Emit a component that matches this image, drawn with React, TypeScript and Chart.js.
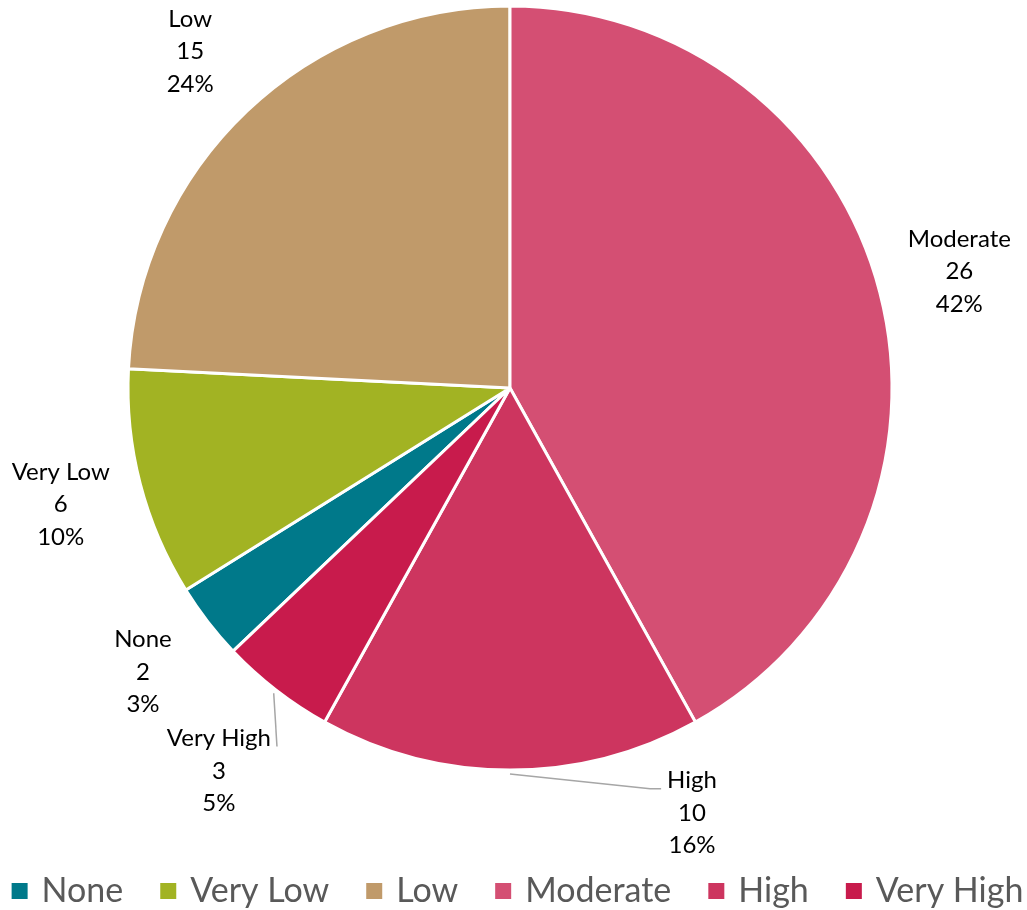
import React, { useEffect, useRef } from "react";
import { Chart, registerables } from "chart.js";

Chart.register(...registerables);

const categories: string[] = ["None", "Very Low", "Low", "Moderate", "High", "Very High"];
const counts: number[] = [2, 6, 15, 26, 10, 3];
const sliceColors: string[] = ["#00798A", "#A2B323", "#C09A6A", "#D44F73", "#CD355F", "#C81B4C"];
const firstSliceAtTop = "Moderate";

// label placement tweaks (style only): [dx, dy, elbow length] relative to default placement
const labelShift: Record<string, [number, number, number]> = {
  High: [182, -39, 11],
  "Very High": [-7, 16, 0],
};

const LABEL_FONT = "24px Lato";
const LABEL_LINE_H = 32.5;

const sliceLabelPlugin = {
  id: "sliceLabels",
  afterDatasetsDraw(chart: any) {
    const ctx: CanvasRenderingContext2D = chart.ctx;
    const meta = chart.getDatasetMeta(0);
    const total = counts.reduce((a, b) => a + b, 0);
    ctx.save();
    ctx.font = LABEL_FONT;
    ctx.textAlign = "center";
    ctx.textBaseline = "middle";
    meta.data.forEach((arc: any, i: number) => {
      const { x, y, startAngle, endAngle, outerRadius } = arc.getProps(
        ["x", "y", "startAngle", "endAngle", "outerRadius"],
        true
      );
      const mid = (startAngle + endAngle) / 2;
      const dist = outerRadius * 1.215;
      const shift = labelShift[categories[i]];
      const lx = x + Math.cos(mid) * dist + (shift ? shift[0] : 0);
      const ly = y + Math.sin(mid) * dist + (shift ? shift[1] : 0);
      const lines = [
        categories[i],
        String(counts[i]),
        Math.round((counts[i] / total) * 100) + "%",
      ];
      ctx.fillStyle = "#000000";
      lines.forEach((t, k) => ctx.fillText(t, lx, ly + (k - 1) * LABEL_LINE_H));
      if (shift) {
        const w = Math.max(...lines.map((t) => ctx.measureText(t).width));
        const sx = x + Math.cos(mid) * (outerRadius + 4);
        const sy = y + Math.sin(mid) * (outerRadius + 4);
        const ey = ly - LABEL_LINE_H + 8;
        let ex: number, elbowX: number;
        if (lx > sx) {
          ex = lx - w / 2 - 6;
          elbowX = ex - shift[2];
        } else {
          ex = lx + w / 2 + 6;
          elbowX = ex + shift[2];
        }
        ctx.strokeStyle = "#A6A6A6";
        ctx.lineWidth = 1.5;
        ctx.beginPath();
        ctx.moveTo(sx, sy);
        ctx.lineTo(elbowX, ey);
        ctx.lineTo(ex, ey);
        ctx.stroke();
      }
    });
    ctx.restore();
  },
};

// bottom legend row (Excel-like spacing)
const LEGEND_FONT = "34px Lato";
const LEGEND_BOX = 16;
const LEGEND_BOX_GAP = 14;
const LEGEND_ITEM_GAP = 37;
const LEGEND_CENTER_X = 517.5;
const LEGEND_Y = 891;

const bottomLegendPlugin = {
  id: "bottomLegend",
  afterDraw(chart: any) {
    const ctx: CanvasRenderingContext2D = chart.ctx;
    ctx.save();
    ctx.font = LEGEND_FONT;
    ctx.textBaseline = "middle";
    ctx.textAlign = "left";
    const widths = categories.map((c) => ctx.measureText(c).width);
    const total =
      widths.reduce((a, b) => a + b, 0) +
      categories.length * (LEGEND_BOX + LEGEND_BOX_GAP) +
      (categories.length - 1) * LEGEND_ITEM_GAP;
    let x = LEGEND_CENTER_X - total / 2;
    categories.forEach((c, i) => {
      ctx.fillStyle = sliceColors[i];
      ctx.fillRect(x, LEGEND_Y - LEGEND_BOX / 2, LEGEND_BOX, LEGEND_BOX);
      x += LEGEND_BOX + LEGEND_BOX_GAP;
      ctx.fillStyle = "#595959";
      ctx.fillText(c, x, LEGEND_Y);
      x += widths[i] + LEGEND_ITEM_GAP;
    });
    ctx.restore();
  },
};

export default function App() {
  const canvasRef = useRef<HTMLCanvasElement | null>(null);

  useEffect(() => {
    document.body.style.margin = "0";
    document.body.style.overflow = "hidden";
    if (!canvasRef.current) return;
    const total = counts.reduce((a, b) => a + b, 0);
    const idx = categories.indexOf(firstSliceAtTop);
    const before = counts.slice(0, idx).reduce((a, b) => a + b, 0);
    const rotation = -(before / total) * 360;

    const chart = new Chart(canvasRef.current, {
      type: "pie",
      data: {
        labels: categories,
        datasets: [
          {
            data: counts,
            backgroundColor: sliceColors,
            borderColor: "#FFFFFF",
            borderWidth: 3,
            hoverOffset: 0,
          },
        ],
      },
      options: {
        animation: false,
        responsive: true,
        maintainAspectRatio: false,
        rotation,
        radius: 382,
        layout: { padding: { top: 0, left: 0, right: 7, bottom: 134 } },
        plugins: {
          tooltip: { enabled: false },
          legend: { display: false },
        },
      },
      plugins: [sliceLabelPlugin, bottomLegendPlugin],
    });
    return () => chart.destroy();
  }, []);

  return (
    <div style={{ width: 1027, height: 910, overflow: "hidden", background: "#FFFFFF" }}>
      <div style={{ position: "relative", width: 1027, height: 910 }}>
        <canvas ref={canvasRef} />
      </div>
    </div>
  );
}
